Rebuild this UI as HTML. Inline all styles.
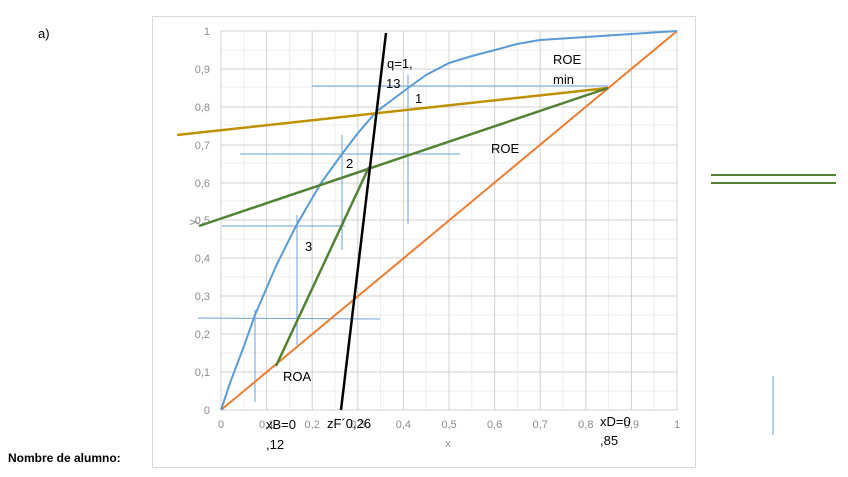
<!DOCTYPE html>
<html><head><style>
body{margin:0;background:#fff;width:848px;height:477px;overflow:hidden;font-family:"Liberation Sans",sans-serif;}
svg{position:absolute;left:0;top:0}
</style></head><body>
<svg width="848" height="477" xmlns="http://www.w3.org/2000/svg" font-family="Liberation Sans, sans-serif">
<rect x="152.5" y="16.5" width="543" height="451" fill="#fff" stroke="#d9d9d9"/>
<path stroke="#ececec" stroke-width="1" fill="none" d="M243.8 31V410M289.4 31V410M335 31V410M380.6 31V410M426.2 31V410M471.8 31V410M517.4 31V410M563 31V410M608.6 31V410M654.2 31V410M221 391H677M221 353H677M221 315H677M221 277H677M221 239H677M221 201H677M221 163H677M221 125H677M221 87H677M221 50H677"/>
<path stroke="#d0d0d0" stroke-width="1" fill="none" d="M221 31V410M266.6 31V410M312.2 31V410M357.8 31V410M403.4 31V410M449 31V410M494.6 31V410M540.2 31V410M585.8 31V410M631.4 31V410M677 31V410M221 410H677M221 372H677M221 334H677M221 296H677M221 258H677M221 220H677M221 183H677M221 145H677M221 107H677M221 69H677M221 31H677"/>
<g font-size="11" fill="#8c8c8c" text-anchor="middle">
<text x="221" y="428">0</text><text x="266.6" y="428">0,1</text><text x="312.2" y="428">0,2</text><text x="357.8" y="428">0,3</text><text x="403.4" y="428">0,4</text><text x="449" y="428">0,5</text><text x="494.6" y="428">0,6</text><text x="540.2" y="428">0,7</text><text x="585.8" y="428">0,8</text><text x="631.4" y="428">0,9</text><text x="677" y="428">1</text>
</g>
<g font-size="11" fill="#8c8c8c" text-anchor="end">
<text x="210" y="414">0</text><text x="210" y="376">0,1</text><text x="210" y="338">0,2</text><text x="210" y="300">0,3</text><text x="210" y="262">0,4</text><text x="210" y="224">0,5</text><text x="210" y="187">0,6</text><text x="210" y="149">0,7</text><text x="210" y="111">0,8</text><text x="210" y="73">0,9</text><text x="210" y="35">1</text>
</g>
<text x="448" y="447" font-size="11" fill="#8c8c8c" text-anchor="middle">x</text>
<text x="0" y="0" font-size="11" fill="#8c8c8c" transform="translate(196,225) rotate(-90)">y</text>
<g stroke="#6f9fdc" stroke-width="1" fill="none">
<line x1="312" y1="86" x2="608" y2="86"/><line x1="408" y1="75" x2="408" y2="224"/>
<line x1="240" y1="154" x2="460" y2="154"/><line x1="342" y1="135" x2="342" y2="250"/>
<line x1="222" y1="226" x2="345" y2="226"/><line x1="297" y1="215" x2="297" y2="345"/>
<line x1="198" y1="318" x2="380" y2="319"/><line x1="255" y1="310" x2="255" y2="402"/>
<line x1="773" y1="376" x2="773" y2="435"/>
</g>
<line x1="221" y1="410" x2="677" y2="31" stroke="#ed7d31" stroke-width="2"/>
<polyline fill="none" stroke="#5b9bd5" stroke-width="2" stroke-linejoin="round" points="221,410 230,383 244,346 255,315 276,266 296,226 321,183 342,154 358,133 376,112 408,88 426,75 449,63 472,56 495,50 517,44 540,40 586,37 631,34 677,31"/>
<line x1="177" y1="135" x2="608" y2="88" stroke="#bf9000" stroke-width="2.5"/>
<line x1="199" y1="226" x2="608" y2="88" stroke="#548235" stroke-width="2.5"/>
<line x1="276" y1="366" x2="369" y2="167" stroke="#548235" stroke-width="2.5"/>
<line x1="341" y1="410" x2="386" y2="33" stroke="#000" stroke-width="2.5"/>
<line x1="711" y1="175" x2="836" y2="175" stroke="#548235" stroke-width="2"/>
<line x1="711" y1="183" x2="836" y2="183" stroke="#548235" stroke-width="2"/>
<g font-size="13" fill="#000">
<text x="387" y="68">q=1,</text><text x="386" y="88">13</text>
<text x="553" y="64">ROE</text><text x="553" y="84">min</text>
<text x="415" y="103">1</text><text x="491" y="153">ROE</text>
<text x="346" y="168">2</text><text x="305" y="251">3</text>
<text x="283" y="381">ROA</text>
<text x="266" y="429">xB=0</text><text x="266" y="449">,12</text>
<text x="327" y="428">zF´0,26</text>
<text x="600" y="426">xD=0</text><text x="600" y="445">,85</text>
<text x="38" y="38">a)</text>
</g>
<text x="8" y="462" font-size="12" font-weight="bold" fill="#000">Nombre de alumno:</text>
</svg>
</body></html>
